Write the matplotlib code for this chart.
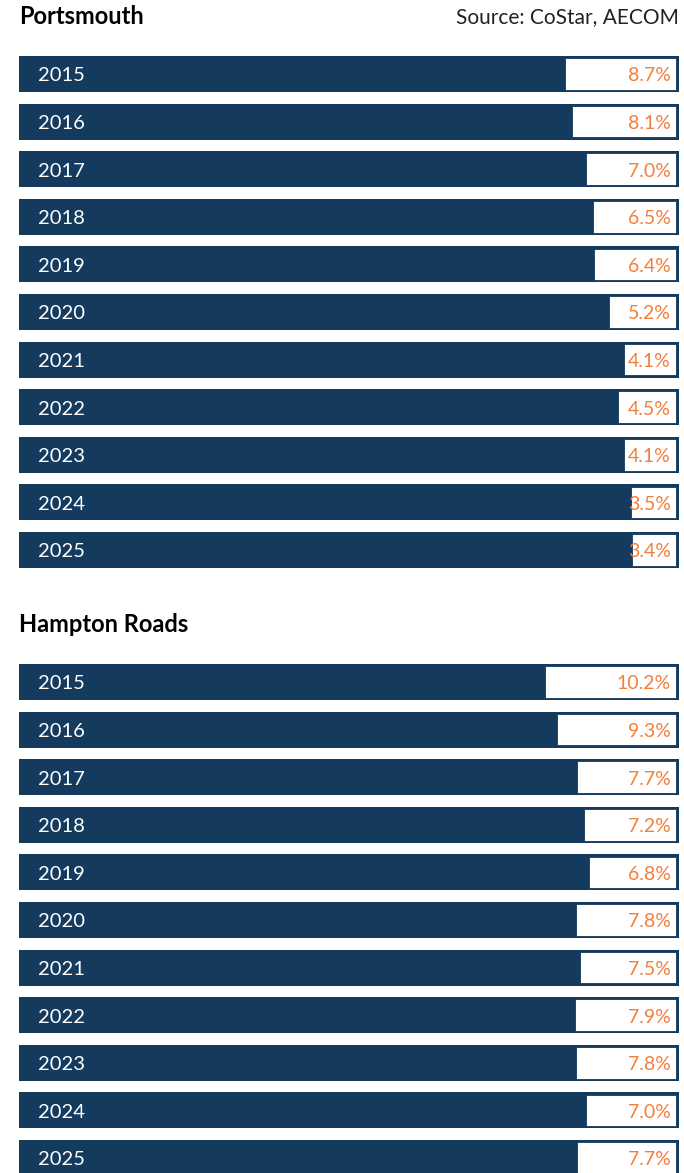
import matplotlib.pyplot as plt

plt.rcParams['font.family'] = ['Lato', 'DejaVu Sans']

NAVY = '#143a5e'
ORANGE = '#f47f3b'

years = ['2015', '2016', '2017', '2018', '2019', '2020',
         '2021', '2022', '2023', '2024', '2025']
portsmouth = [8.7, 8.1, 7.0, 6.5, 6.4, 5.2, 4.1, 4.5, 4.1, 3.5, 3.4]
hampton = [10.2, 9.3, 7.7, 7.2, 6.8, 7.8, 7.5, 7.9, 7.8, 7.0, 7.7]

W, H = 684, 1173
PX_PER_PCT = 12.8
FULL = 660 / PX_PER_PCT      # navy bar spans 19..679 px
RIGHT = 657 / PX_PER_PCT     # white box ends at 676 px

fig = plt.figure(figsize=(W / 100, H / 100), dpi=100)


def panel(top_px, values):
    pitch = 47.6
    y0 = top_px - pitch / 2
    y1 = top_px + pitch * 10 + pitch / 2
    ax = fig.add_axes([19 / W, 1 - y1 / H, 660 / W, (y1 - y0) / H])
    pos = list(range(len(years)))
    ax.barh(pos, [FULL] * len(pos), height=0.756, color=NAVY, left=0)
    lefts = [RIGHT - v for v in values]
    ax.barh(pos, values, left=lefts, height=0.66, color='white',
            edgecolor=NAVY, linewidth=0.6)
    for i, (yr, v) in enumerate(zip(years, values)):
        ax.text(19 / PX_PER_PCT, i + 0.04, yr, color='white', fontsize=14.5,
                va='center', ha='left')
        ax.text(RIGHT - 5 / PX_PER_PCT, i + 0.04, f'{v:.1f}%', color=ORANGE,
                fontsize=14, va='center', ha='right')
    ax.set_xlim(0, FULL)
    ax.set_ylim(len(years) - 0.5, -0.5)
    ax.axis('off')
    return ax


panel(74, portsmouth)
panel(682, hampton)

fig.text(19 / W, 1 - 17 / H, 'Portsmouth', fontsize=17, fontweight='bold',
         va='center', ha='left', color='black')
fig.text(679 / W, 1 - 17 / H, 'Source: CoStar, AECOM', fontsize=15,
         va='center', ha='right', color='#222222')
fig.text(19 / W, 1 - 624 / H, 'Hampton Roads', fontsize=17, fontweight='bold',
         va='center', ha='left', color='black')

fig.savefig('out.png', dpi=100, facecolor='white')
